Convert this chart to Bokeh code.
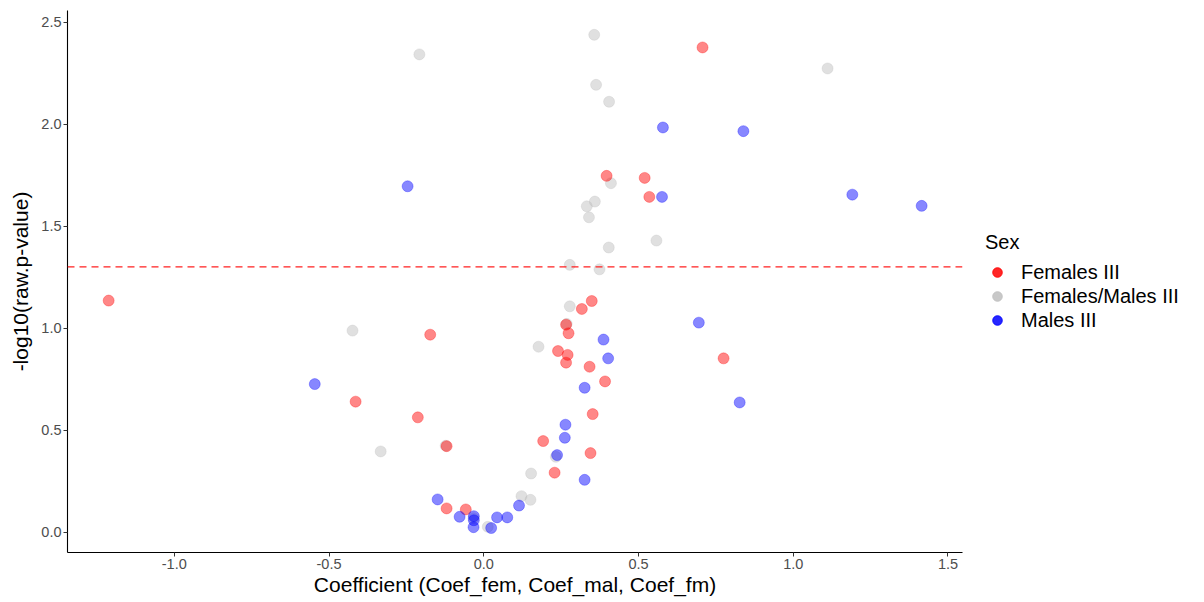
import math

from bokeh.embed import file_html
from bokeh.layouts import row
from bokeh.models import (ColumnDataSource, FixedTicker, Legend, LegendItem,
                          PrintfTickFormatter, Range1d, Span)
from bokeh.plotting import figure
from bokeh.resources import INLINE

# Coefficients and -log10(raw p-value) for each group
fem_coef = [0.707, 0.397, 0.520, 0.535, -1.212, -0.173, -0.414, -0.213, -0.120,
            -0.120, -0.058, 0.229, 0.192, 0.345, 0.352, 0.392, 0.342, 0.240,
            0.271, 0.266, 0.274, 0.266, 0.317, 0.349, 0.775]
fem_logp = [2.376, 1.747, 1.737, 1.644, 1.136, 0.969, 0.641, 0.564, 0.423,
            0.118, 0.113, 0.293, 0.448, 0.389, 0.580, 0.740, 0.812, 0.889,
            0.870, 0.832, 0.976, 1.018, 1.095, 1.134, 0.853]

fm_coef = [-0.208, 0.357, 1.111, 0.363, 0.405, 0.411, 0.359, 0.333, 0.340,
           0.558, 0.404, 0.278, 0.374, -0.424, -0.333, -0.123, -0.033, 0.013,
           0.122, 0.151, 0.153, 0.233, 0.177, 0.268, 0.278]
fm_logp = [2.342, 2.438, 2.273, 2.193, 2.110, 1.711, 1.621, 1.598, 1.544,
           1.430, 1.396, 1.311, 1.289, 0.989, 0.397, 0.425, 0.070, 0.028,
           0.178, 0.160, 0.289, 0.371, 0.910, 1.022, 1.108]

mal_coef = [-0.246, 0.579, 0.839, 0.576, 1.191, 1.415, -0.546, -0.149, -0.078,
            -0.032, -0.032, -0.033, 0.024, 0.043, 0.076, 0.114, 0.237, 0.262,
            0.264, 0.326, 0.326, 0.402, 0.387, 0.695, 0.827]
mal_logp = [1.696, 1.984, 1.966, 1.644, 1.655, 1.600, 0.727, 0.162, 0.077,
            0.080, 0.060, 0.026, 0.022, 0.074, 0.074, 0.132, 0.379, 0.464,
            0.528, 0.258, 0.709, 0.853, 0.945, 1.028, 0.637]

group_labels = ["Females III", "Females/Males III", "Males III"]
group_colors = ["#FF0000", "#BEBEBE", "#0000FF"]

x_ticks = [-1.0, -0.5, 0.0, 0.5, 1.0, 1.5]
y_ticks = [0.0, 0.5, 1.0, 1.5, 2.0, 2.5]

p_threshold = 0.05

FONT = "Liberation Sans"
HEIGHT = 602
MAIN_W, LEGEND_W = 965, 239

p = figure(width=MAIN_W, height=HEIGHT, output_backend="svg", toolbar_location=None,
           x_range=Range1d(-1.345, 1.547), y_range=Range1d(-0.098, 2.557),
           min_border_left=67, min_border_right=3, min_border_top=10,
           min_border_bottom=50)
p.background_fill_color = "white"
p.border_fill_color = "white"
p.outline_line_color = None
p.grid.visible = False

for ax in (p.xaxis[0], p.yaxis[0]):
    ax.axis_line_color = "black"
    ax.axis_line_width = 1.1
    ax.major_tick_line_color = "#333333"
    ax.major_tick_out = 4
    ax.major_tick_in = 0
    ax.minor_tick_line_color = None
    ax.major_label_text_font = FONT
    ax.major_label_text_font_size = "14.5px"
    ax.major_label_text_color = "#4D4D4D"
    ax.major_label_standoff = 2
    ax.axis_label_text_font = FONT
    ax.axis_label_text_font_size = "21px"
    ax.axis_label_text_font_style = "normal"
    ax.axis_label_text_color = "black"
    ax.formatter = PrintfTickFormatter(format="%.1f")

p.xaxis.ticker = FixedTicker(ticks=x_ticks)
p.yaxis.ticker = FixedTicker(ticks=y_ticks)
p.xaxis.axis_label = "Coefficient (Coef_fem, Coef_mal, Coef_fm)"
p.yaxis.axis_label = "-log10(raw.p-value)"
p.xaxis.axis_label_standoff = 1
p.yaxis.axis_label_standoff = 6

# Significance threshold
p.add_layout(Span(location=-math.log10(p_threshold), dimension="width",
                  line_color="#FF2020", line_width=1.1, line_dash="7 5"))

series = {
    "Females III": (fem_coef, fem_logp),
    "Females/Males III": (fm_coef, fm_logp),
    "Males III": (mal_coef, mal_logp),
}

draw_order = ["Females/Males III", "Females III", "Males III"]
for name in draw_order:
    xs, ys = series[name]
    color = group_colors[group_labels.index(name)]
    src = ColumnDataSource(dict(x=xs, y=ys))
    p.scatter("x", "y", source=src, size=11, fill_color=color, fill_alpha=0.47,
              line_color=color, line_alpha=0.3)

# Legend panel: a bare figure holding only the legend
lg = figure(width=LEGEND_W, height=HEIGHT, output_backend="svg", toolbar_location=None,
            x_range=Range1d(0, 1), y_range=Range1d(0, 1),
            x_axis_location=None, y_axis_location=None,
            min_border_left=0, min_border_right=0, min_border_top=0,
            min_border_bottom=0)
lg.outline_line_color = None
lg.grid.visible = False
lg.background_fill_color = "white"
lg.border_fill_color = "white"

items = []
for name, color in zip(group_labels, group_colors):
    r = lg.scatter(x=[float("nan")], y=[float("nan")], size=11, fill_color=color,
                   fill_alpha=0.85, line_color=color, line_alpha=0.85)
    items.append(LegendItem(label=name, renderers=[r]))

legend = Legend(items=items, location=(20, 220), title="Sex",
                title_text_font=FONT, title_text_font_size="20px",
                title_text_font_style="normal", title_text_color="black",
                title_standoff=6,
                label_text_font=FONT, label_text_font_size="20px",
                label_text_color="black", label_standoff=12,
                glyph_width=24, glyph_height=24, label_height=24, spacing=0,
                padding=0, margin=0, border_line_color=None,
                background_fill_alpha=0)
lg.add_layout(legend, "center")

layout = row(p, lg)
open("out.html", "w").write(file_html(layout, INLINE))
